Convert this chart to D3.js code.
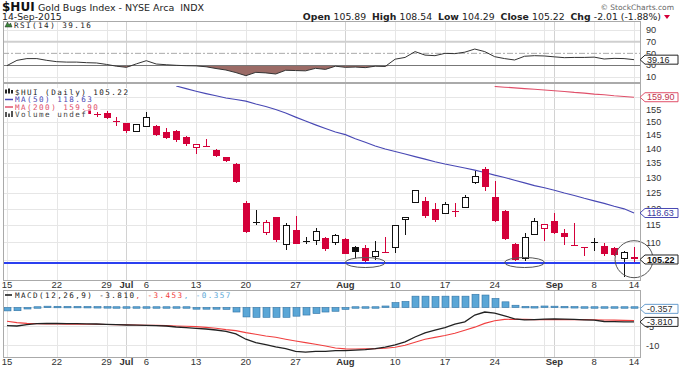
<!DOCTYPE html>
<html><head><meta charset="utf-8">
<script src="https://cdn.jsdelivr.net/npm/d3@7"></script>
<style>
html,body{margin:0;padding:0;background:#fff;}
svg{display:block;}
</style></head>
<body>
<svg id="chart" width="681" height="368"></svg>
<script>
// ---------------- DATA ----------------
const dates = [
"2015-06-15","2015-06-16","2015-06-17","2015-06-18","2015-06-19",
"2015-06-22","2015-06-23","2015-06-24","2015-06-25","2015-06-26",
"2015-06-29","2015-06-30","2015-07-01","2015-07-02",
"2015-07-06","2015-07-07","2015-07-08","2015-07-09","2015-07-10",
"2015-07-13","2015-07-14","2015-07-15","2015-07-16","2015-07-17",
"2015-07-20","2015-07-21","2015-07-22","2015-07-23","2015-07-24",
"2015-07-27","2015-07-28","2015-07-29","2015-07-30","2015-07-31",
"2015-08-03","2015-08-04","2015-08-05","2015-08-06","2015-08-07",
"2015-08-10","2015-08-11","2015-08-12","2015-08-13","2015-08-14",
"2015-08-17","2015-08-18","2015-08-19","2015-08-20","2015-08-21",
"2015-08-24","2015-08-25","2015-08-26","2015-08-27","2015-08-28",
"2015-08-31","2015-09-01","2015-09-02","2015-09-03","2015-09-04",
"2015-09-08","2015-09-09","2015-09-10","2015-09-11","2015-09-14"];

// first 8 sessions are not readable in the reference (hidden by the legend)
const openP = [null,null,null,null,null,null,null,null,
154.6,153.1,153.6,150.4,149.6,146.5,148.3,148.3,146.2,146.4,144.3,140.3,141.2,139.7,137.0,134.7,
121.7,115.8,112.9,117.3,109.3,113.5,110.4,110.5,111.2,110.0,110.9,108.6,108.4,105.9,107.4,108.4,
116.7,121.8,122.3,120.0,118.6,119.4,120.2,128.2,133.0,123.6,119.2,109.6,105.6,112.2,114.0,116.1,
112.7,109.3,108.7,109.9,109.0,108.4,105.6,105.89];
const highP = [null,null,null,null,null,null,null,null,
155.2,153.9,154.2,152.0,149.8,149.3,153.9,148.9,147.7,146.8,144.5,141.8,143.6,140.0,137.2,134.9,
122.3,119.6,116.6,117.4,115.6,117.8,111.5,114.1,111.4,112.4,111.1,109.0,109.3,110.3,111.4,115.1,
117.4,126.0,123.6,121.7,122.1,121.7,124.4,132.1,133.6,128.7,119.4,109.7,112.7,117.1,115.4,118.6,
113.9,115.5,108.8,111.2,109.8,108.6,107.5,108.54];
const lowP = [null,null,null,null,null,null,null,null,
152.6,152.0,151.0,148.6,145.8,146.3,148.2,144.8,143.7,142.5,141.0,138.1,141.0,137.2,135.3,128.3,
112.8,115.1,112.0,110.0,107.9,109.4,109.6,109.3,107.5,109.3,106.6,105.6,104.5,105.0,107.0,107.0,
112.2,121.7,117.1,115.9,118.4,117.3,120.1,127.7,125.6,115.9,110.7,104.7,104.9,112.0,110.5,112.5,
109.2,109.1,106.2,107.6,106.1,106.3,100.6,104.29];
const closeP = [null,null,null,null,null,null,null,null,
153.1,153.0,151.4,150.0,146.4,149.1,151.8,144.9,143.9,143.3,141.7,141.5,141.1,137.3,135.5,128.5,
113.0,115.9,115.7,110.7,114.9,109.6,110.5,113.2,108.2,111.9,106.8,107.3,104.7,107.5,107.2,114.9,
117.3,125.8,117.8,116.4,121.4,119.3,123.5,130.4,126.8,116.1,110.9,105.2,111.4,116.1,115.1,112.7,
111.4,109.2,108.6,110.0,106.7,106.5,107.23,105.22];

// moving averages (null where above the visible price range)
const ma50 = [null,null,null,null,null,null,null,null,null,null,null,null,null,null,null,null,null,
164.6,163.5,162.4,161.4,160.5,159.6,159.0,158.3,157.1,156.1,154.9,153.5,151.9,150.4,148.9,147.5,
146.2,145.2,143.7,142.4,141.0,139.9,139.0,138.1,137.2,136.3,135.4,134.6,133.9,133.2,132.5,131.7,
130.8,130.0,129.1,128.2,127.3,126.6,125.8,124.9,124.1,123.2,122.4,121.6,120.7,119.9,118.63];
const ma200 = [null,null,null,null,null,null,null,null,null,null,null,null,null,null,null,null,
null,null,null,null,null,null,null,null,null,null,null,null,null,null,null,null,null,null,null,null,
null,null,null,null,null,null,null,null,null,null,null,null,null,
164.4,164.1,163.8,163.5,163.2,162.9,162.6,162.3,161.9,161.6,161.2,160.9,160.5,160.2,159.90];

const rsi = [29,38,41,41,38,35.7,35,35,34,33.5,31,28,26,32,37.4,31.7,30.5,29.5,28.8,28.5,27,24,21.4,17,
11.7,17.4,16.5,14.6,21,20.5,20,24.3,22.5,28,26,26.5,25.5,28,27.5,40,43,53,47,46,50,49.5,52,57.4,53,
44.3,41,38.6,45,46,45.5,44,42.6,43,43,43.5,40.3,41.4,41,39.16];

const macd = [-4.8,-4.9,-4.55,-4.28,-4.19,-4.23,-4.28,-4.28,-4.33,-4.37,-4.45,-4.54,-4.63,-4.68,-4.72,
-4.81,-4.9,-5.16,-5.34,-5.51,-5.69,-5.95,-6.3,-7.0,-8.4,-9.3,-9.8,-10.4,-10.9,-11.6,-11.8,-11.6,-11.6,
-11.4,-11.4,-11.3,-11.15,-10.9,-10.5,-9.9,-9.1,-7.8,-6.7,-6.0,-5.3,-4.4,-3.8,-2.0,-1.2,-1.5,-2.2,
-3.0,-3.3,-3.2,-3.1,-3.05,-3.1,-3.15,-3.25,-3.35,-3.7,-3.75,-3.78,-3.810];
const signal = [-3.66,-4.0,-4.19,-4.28,-4.37,-4.37,-4.45,-4.45,-4.45,-4.45,-4.5,-4.54,-4.58,-4.63,-4.68,
-4.72,-4.81,-4.9,-4.98,-5.07,-5.25,-5.51,-5.86,-6.13,-6.66,-7.1,-7.54,-7.89,-8.4,-8.86,-9.3,-9.74,
-10.2,-10.7,-10.95,-11.0,-10.95,-10.9,-10.8,-10.5,-10.0,-9.2,-8.4,-7.9,-7.4,-6.8,-6.0,-5.2,-4.2,
-3.5,-3.15,-3.1,-3.15,-3.2,-3.2,-3.2,-3.2,-3.2,-3.2,-3.25,-3.3,-3.35,-3.4,-3.453];
const hist = [-0.9,-0.85,-0.4,-0.15,0.15,0.12,0.1,0.1,0.08,0.05,0.03,-0.02,-0.05,-0.05,-0.06,-0.08,
-0.1,-0.25,-0.35,-0.45,-0.45,-0.45,-0.5,-1.2,-2.5,-2.6,-2.6,-2.6,-2.6,-2.3,-2.0,-1.6,-1.2,-1.0,
-0.5,-0.35,-0.25,-0.05,0.4,1.3,1.6,3.0,3.0,2.9,3.0,3.0,3.0,3.5,3.3,2.4,1.5,0.6,0.1,0.05,0.2,0.15,
0.1,0.05,0.0,-0.05,-0.25,-0.35,-0.38,-0.357];

const tickDates = ["2015-06-15","2015-06-22","2015-06-29","2015-07-01","2015-07-06","2015-07-13",
"2015-07-20","2015-07-27","2015-08-03","2015-08-10","2015-08-17","2015-08-24","2015-08-31",
"2015-09-01","2015-09-08","2015-09-14"];
const tickLabels = ["15","22","29","Jul","6","13","20","27","Aug","10","17","24","","Sep","8","14"];
const monthTick = [false,false,false,true,false,false,false,false,true,false,false,false,false,true,false,false];

const priceTicks = [105,110,115,120,125,130,135,140,145,150,155,160];
const rsiTicks = [10,30,50,70,90];
const macdTicks = [0,-5,-10];
const supportLevel = 104.3;
const annotations = [
  {date:"2015-08-05", price:104.4, rx:20, ry:5},
  {date:"2015-08-27", price:104.4, rx:20, ry:5},
  {date:"2015-09-14", price:105.3, rx:19, ry:18.5}
];
const header = {sym:"$HUI", name:"Gold Bugs Index - NYSE Arca  INDX", date:"14-Sep-2015",
  open:"105.89", high:"108.54", low:"104.29", close:"105.22", chg:"-2.01 (-1.88%)"};

// ---------------- DRAW ----------------
const svg = d3.select("#chart");
const SANS = "'DejaVu Sans', Verdana, sans-serif";
const ARIAL = "'Liberation Sans', Arial, sans-serif";
const MONO = "'DejaVu Sans Mono', monospace";
const RED = "#d4003a", BLK = "#111", MA50C = "#4848b4", MA200C = "#e0506a";
const L = 3, R = 640;
const panels = {rsi:[20.5, 82], main:[82, 280], macd:[290, 357]};

const x = d3.scaleBand().domain(dates).range([2, 639]);
const xc = d => x(d) + x.bandwidth() / 2;
const yR = d3.scaleLinear().domain([0, 100]).range([82.5, 24.2]);
const yP = d3.scaleLog().domain([99.8, 164.6]).range([280, 86]);
const yM = d3.scaleLinear().domain([-13.1, 4.63]).range([357, 290]);

const defs = svg.append("defs");
function clip(id, t, b) {
  defs.append("clipPath").attr("id", id).append("rect")
    .attr("x", L).attr("y", t).attr("width", R - L).attr("height", b - t);
}
clip("cR", panels.rsi[0], panels.rsi[1]);
clip("cP", 86, 280);
clip("cM", panels.macd[0], panels.macd[1]);

// vertical grid
const grid = svg.append("g").attr("shape-rendering", "crispEdges");
Object.values(panels).forEach(([t, b]) => {
  grid.selectAll(null).data(tickDates).enter().append("line")
    .attr("x1", d => Math.round(xc(d)) + 0.5).attr("x2", d => Math.round(xc(d)) + 0.5)
    .attr("y1", t).attr("y2", b)
    .attr("stroke", (d, i) => monthTick[i] ? "#d2d2d2" : "#e6e6e6");
});
// horizontal grid
grid.selectAll(null).data(priceTicks).enter().append("line")
  .attr("x1", L).attr("x2", R).attr("y1", d => Math.round(yP(d)) + 0.5).attr("y2", d => Math.round(yP(d)) + 0.5)
  .attr("stroke", "#e6e6e6");
grid.selectAll(null).data([10, 90]).enter().append("line")
  .attr("x1", L).attr("x2", R).attr("y1", d => Math.round(yR(d)) + 0.5).attr("y2", d => Math.round(yR(d)) + 0.5)
  .attr("stroke", "#e6e6e6");
grid.selectAll(null).data(macdTicks).enter().append("line")
  .attr("x1", L).attr("x2", R).attr("y1", d => Math.round(yM(d)) + 0.5).attr("y2", d => Math.round(yM(d)) + 0.5)
  .attr("stroke", "#e6e6e6");

// ---- RSI panel ----
const gR = svg.append("g").attr("clip-path", "url(#cR)");
gR.append("line").attr("x1", L).attr("x2", R).attr("y1", yR(70)).attr("y2", yR(70))
  .attr("stroke", "#cfcfcf").attr("stroke-width", 2);
gR.append("line").attr("x1", L).attr("x2", R).attr("y1", yR(50)).attr("y2", yR(50))
  .attr("stroke", "#aaa").attr("stroke-dasharray", "6,2,2,2");
const rsiData = dates.map((d, i) => ({d, v: rsi[i]}));
gR.append("path").datum(rsiData)
  .attr("d", d3.area().x(p => xc(p.d)).y0(yR(30)).y1(p => yR(Math.min(p.v, 30))))
  .attr("fill", "#9b6b66");
gR.append("line").attr("x1", L).attr("x2", R).attr("y1", Math.round(yR(30)) + 0.5).attr("y2", Math.round(yR(30)) + 0.5)
  .attr("stroke", "#777").attr("shape-rendering", "crispEdges");
gR.append("path").datum(rsiData)
  .attr("d", d3.line().x(p => xc(p.d)).y(p => yR(p.v)))
  .attr("fill", "none").attr("stroke", "#333").attr("stroke-width", 1);

// ---- Main price panel ----
const gP = svg.append("g").attr("clip-path", "url(#cP)");
const maLine = d3.line().defined(p => p.v != null).x(p => xc(p.d)).y(p => yP(p.v));
gP.append("path").datum(dates.map((d, i) => ({d, v: ma200[i]})))
  .attr("d", maLine).attr("fill", "none").attr("stroke", MA200C).attr("stroke-width", 1.1);
gP.append("path").datum(dates.map((d, i) => ({d, v: ma50[i]})))
  .attr("d", maLine).attr("fill", "none").attr("stroke", MA50C).attr("stroke-width", 1.1);

const candles = dates.map((d, i) => ({d, o: openP[i], h: highP[i], l: lowP[i], c: closeP[i],
  pc: i > 0 ? closeP[i - 1] : null})).filter(k => k.c != null);
const bw = 6;
const cg = gP.append("g").attr("shape-rendering", "crispEdges");
candles.forEach(k => {
  const col = (k.pc != null && k.c >= k.pc) ? BLK : RED;
  const filled = k.c < k.o;
  const cx = Math.round(xc(k.d));
  cg.append("line").attr("x1", cx + 0.5).attr("x2", cx + 0.5)
    .attr("y1", yP(k.h)).attr("y2", yP(k.l)).attr("stroke", col);
  const yt = yP(Math.max(k.o, k.c)), yb = yP(Math.min(k.o, k.c));
  const hgt = yb - yt;
  if (hgt < 1.6) {
    cg.append("rect").attr("x", cx - 3).attr("y", Math.round((yt + yb) / 2)).attr("width", bw + 1).attr("height", 1)
      .attr("fill", col);
  } else if (filled) {
    cg.append("rect").attr("x", cx - 3).attr("y", yt).attr("width", bw + 1).attr("height", hgt).attr("fill", col);
  } else {
    cg.append("rect").attr("x", cx - 2.5).attr("y", yt).attr("width", bw).attr("height", hgt)
      .attr("fill", "#fff").attr("stroke", col).attr("stroke-width", 1);
  }
});

// support line
svg.append("line").attr("x1", L).attr("x2", R).attr("y1", yP(supportLevel)).attr("y2", yP(supportLevel))
  .attr("stroke", "#2b3ff0").attr("stroke-width", 2);

// annotations
svg.selectAll(null).data(annotations).enter().append("ellipse")
  .attr("cx", a => xc(a.date)).attr("cy", a => yP(a.price)).attr("rx", a => a.rx).attr("ry", a => a.ry)
  .attr("fill", "none").attr("stroke", "#555").attr("stroke-width", 1);

// ---- MACD panel ----
const gM = svg.append("g").attr("clip-path", "url(#cM)");
gM.append("g").selectAll("rect").data(dates.map((d, i) => ({d, v: hist[i]}))).enter().append("rect")
  .attr("x", p => Math.round(xc(p.d)) - 3).attr("width", 7)
  .attr("y", p => Math.min(yM(0), yM(p.v)) - (Math.abs(yM(p.v) - yM(0)) < 1.5 ? 0.75 : 0))
  .attr("height", p => Math.max(1.5, Math.abs(yM(p.v) - yM(0))))
  .attr("fill", "#5aa6d6").attr("stroke", "#2f72a4").attr("stroke-width", 0.6);
gM.append("path").datum(dates.map((d, i) => ({d, v: signal[i]})))
  .attr("d", d3.line().x(p => xc(p.d)).y(p => yM(p.v)))
  .attr("fill", "none").attr("stroke", "#f04040").attr("stroke-width", 1.1);
gM.append("path").datum(dates.map((d, i) => ({d, v: macd[i]})))
  .attr("d", d3.line().x(p => xc(p.d)).y(p => yM(p.v)))
  .attr("fill", "none").attr("stroke", "#222").attr("stroke-width", 1.3);

// ---- panel borders ----
Object.values(panels).forEach(([t, b]) => {
  svg.append("rect").attr("x", L + 0.5).attr("y", Math.round(t) + 0.5).attr("width", R - L).attr("height", Math.round(b - t))
    .attr("fill", "none").attr("stroke", "#aaa").attr("shape-rendering", "crispEdges");
});

// ---- tags (computed first so fully hidden axis labels can be skipped) ----
const tags = [
  {y: yR(rsi[63]), txt: rsi[63].toFixed(2), stroke: "#222", color: "#222", bold: false},
  {y: yP(ma200[63]), txt: ma200[63].toFixed(2), stroke: MA200C, color: "#c0304a", bold: false},
  {y: yP(ma50[63]), txt: ma50[63].toFixed(2), stroke: MA50C, color: "#3a3aa0", bold: false},
  {y: yP(closeP[63]), txt: closeP[63].toFixed(2), stroke: "#222", color: "#111", bold: true},
  {y: yM(hist[63]), txt: hist[63].toFixed(3), stroke: "#6a9fcf", color: "#333", bold: false},
  {y: yM(macd[63]), txt: macd[63].toFixed(3), stroke: "#222", color: "#222", bold: false}
];
const hidden = y => tags.some(t => Math.abs(t.y - y) < 4);

// ---- axis labels (right) ----
const ax = svg.append("g").attr("font-family", ARIAL).attr("font-size", 9.2).attr("fill", "#333");
ax.selectAll(null).data(priceTicks.filter(d => !hidden(yP(d)))).enter().append("text")
  .attr("x", 646).attr("y", d => yP(d) + 3.3).text(d => d);
ax.selectAll(null).data(rsiTicks.filter(d => !hidden(yR(d)))).enter().append("text")
  .attr("x", 646).attr("y", d => yR(d) + 3.3).text(d => d);
ax.selectAll(null).data(macdTicks.filter(d => !hidden(yM(d)))).enter().append("text")
  .attr("x", 646).attr("y", d => yM(d) + 3.3).text(d => d);

// date labels
[288, 365].forEach(by => {
  svg.append("g").selectAll("text").data(tickDates).enter().append("text")
    .attr("x", d => xc(d)).attr("y", by).attr("text-anchor", "middle")
    .attr("font-family", ARIAL).attr("font-size", 9.5)
    .attr("font-weight", (d, i) => monthTick[i] ? "bold" : "normal")
    .attr("fill", "#333").text((d, i) => tickLabels[i]);
});

// tags
tags.forEach(t => {
  const g = svg.append("g");
  g.append("path").attr("d", `M640,${t.y} L645,${t.y - 4.5} L678,${t.y - 4.5} L678,${t.y + 4.5} L645,${t.y + 4.5} Z`)
    .attr("fill", "#fff").attr("stroke", t.stroke).attr("stroke-width", 1);
  g.append("text").attr("x", 647).attr("y", t.y + 3.2).attr("font-family", ARIAL).attr("font-size", 9)
    .attr("font-weight", t.bold ? "bold" : "normal").attr("fill", t.color).text(t.txt);
});

// ---- legends ----
function legendText(g, x0, y, parts, bg) {
  const t = g.append("text").attr("x", x0).attr("y", y).attr("font-family", MONO).attr("font-size", 7.6)
    .attr("letter-spacing", 1.45);
  parts.forEach(p => t.append("tspan").attr("fill", p[1]).text(p[0]));
  if (bg) {
    const w = t.node().getComputedTextLength();
    g.insert("rect", "text").attr("x", x0 - 11).attr("y", y - 6.5).attr("width", w + 12).attr("height", 7.5)
      .attr("fill", "#fff");
  }
  return t;
}
const lg = svg.append("g");
legendText(lg, 15, 94.5, [["$HUI (Daily) " + closeP[63].toFixed(2), "#222"]], true);
legendText(lg, 15, 102, [["MA(50) " + ma50[63].toFixed(2), MA50C]], true);
legendText(lg, 15, 109.5, [["MA(200) " + ma200[63].toFixed(2), MA200C]], true);
legendText(lg, 15, 117, [["Volume undef", "#444"]], true);
// icons
lg.append("rect").attr("x", 5).attr("y", 89.5).attr("width", 2).attr("height", 4).attr("fill", "#222");
lg.append("rect").attr("x", 8).attr("y", 88.5).attr("width", 2).attr("height", 5).attr("fill", "#222");
lg.append("rect").attr("x", 11).attr("y", 90).attr("width", 2).attr("height", 3.5).attr("fill", "#222");
lg.append("line").attr("x1", 5).attr("x2", 13).attr("y1", 99.5).attr("y2", 99.5).attr("stroke", MA50C).attr("stroke-width", 1.5);
lg.append("line").attr("x1", 5).attr("x2", 13).attr("y1", 107).attr("y2", 107).attr("stroke", MA200C).attr("stroke-width", 1.5);
lg.append("rect").attr("x", 5).attr("y", 112).attr("width", 2).attr("height", 5).attr("fill", "#555");
lg.append("rect").attr("x", 8).attr("y", 113.5).attr("width", 2).attr("height", 3.5).attr("fill", "#555");
lg.append("rect").attr("x", 11).attr("y", 111).attr("width", 2).attr("height", 6).attr("fill", "#555");

// RSI legend
svg.append("path").attr("d", "M5,27 L7.5,22 L9,25 L10.5,23 L12,27 Z").attr("fill", "#3a8a3a").attr("stroke", "#222").attr("stroke-width", 0.5);
legendText(svg, 14, 27.5, [["RSI(14) " + rsi[63].toFixed(2), "#222"]], false);

// MACD legend
svg.append("line").attr("x1", 5).attr("x2", 12).attr("y1", 295).attr("y2", 295).attr("stroke", "#111").attr("stroke-width", 1.5);
legendText(svg, 15, 298, [["MACD(12,26,9) " + macd[63].toFixed(3), "#222"], [", " + signal[63].toFixed(3), "#f04040"],
  [", " + hist[63].toFixed(3), "#5aa6d6"]], false);

// ---- header ----
svg.append("text").attr("x", 2).attr("y", 11).attr("font-family", SANS).attr("font-size", 12)
  .attr("font-weight", "bold").attr("fill", "#111").text(header.sym);
svg.append("text").attr("x", 38).attr("y", 10.5).attr("font-family", SANS).attr("font-size", 9.5)
  .attr("fill", "#222").text(header.name.replace(/ /g, "\u00A0"));
svg.append("text").attr("x", 2).attr("y", 20).attr("font-family", SANS).attr("font-size", 9.3)
  .attr("fill", "#222").text(header.date);
svg.append("text").attr("x", 674).attr("y", 10).attr("text-anchor", "end").attr("font-family", SANS)
  .attr("font-size", 7.5).attr("fill", "#666").text("\u00A9 StockCharts.com");
const ht = svg.append("text").attr("x", 661).attr("y", 20).attr("text-anchor", "end")
  .attr("font-family", SANS).attr("font-size", 9.3).attr("fill", "#222");
const NB = "\u00A0";
[["Open" + NB, true], [header.open + NB + NB, false], ["High" + NB, true], [header.high + NB + NB, false],
 ["Low" + NB, true], [header.low + NB + NB, false], ["Close" + NB, true], [header.close + NB + NB, false],
 ["Chg" + NB, true], [header.chg.replace(/ /g, NB), false]].forEach(p => {
  ht.append("tspan").attr("font-weight", p[1] ? "bold" : "normal").text(p[0]);
});
svg.append("path").attr("d", "M664,15 L670,15 L667,19 Z").attr("fill", RED);
</script>
</body></html>
